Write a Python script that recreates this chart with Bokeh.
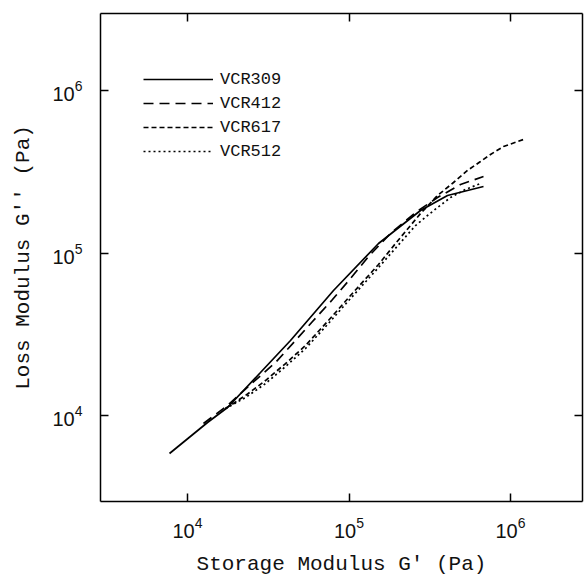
from bokeh.plotting import figure
from bokeh.models import LogAxis, FixedTicker, Legend, LegendItem, Range1d
from bokeh.embed import file_html
from bokeh.resources import INLINE

# ---- data ----
vcr309_x = [7740, 13300, 17690, 28310, 43430, 80170, 152300, 277200, 407300, 680500]
vcr309_y = [5840, 9056, 11200, 18390, 28940, 58780, 114400, 182600, 225800, 256600]

vcr412_x = [12560, 17690, 24550, 35070, 46640, 59430, 79040, 102200, 132000, 180700,
            258100, 353200, 490300, 680500]
vcr412_y = [8930, 11520, 15510, 21200, 28940, 37890, 51730, 69670, 95170, 131800,
            177500, 219500, 263900, 295700]

vcr617_x = [17190, 22870, 30410, 40450, 53790, 73590, 102200, 152300, 194100, 223800,
            277200, 353200, 443700, 541700, 652000, 751900, 905100, 1204000]
vcr617_y = [11040, 13280, 16420, 20890, 26970, 37890, 54770, 84980, 114400, 135600,
            175000, 225800, 271600, 322000, 365700, 403800, 452300, 499500]

vcr512_x = [17190, 22870, 30410, 40450, 53790, 73590, 102200, 152300, 208400, 258100,
            306300, 353200, 425100, 526500, 652000]
vcr512_y = [11040, 12900, 15730, 20020, 25840, 36310, 52480, 81440, 116000, 147600,
            170100, 190500, 219500, 246000, 267700]

series_names = ["VCR309", "VCR412", "VCR617", "VCR512"]
tick_values = [1e4, 1e5, 1e6]
tick_labels = ["10\u2074", "10\u2075", "10\u2076"]

x_title = "Storage Modulus G' (Pa)"
y_title = "Loss Modulus G'' (Pa)"

# ---- figure ----
p = figure(x_axis_type="log", y_axis_type="log",
           frame_width=482, frame_height=488,
           x_range=Range1d(2893, 2.791e6), y_range=Range1d(2958, 2.977e6),
           output_backend="svg", toolbar_location=None,
           min_border_left=100, min_border_right=2, min_border_top=13, min_border_bottom=74)
p.grid.visible = False
p.outline_line_color = None
p.background_fill_color = "white"
p.border_fill_color = "white"

labels = {str(int(v)): t for v, t in zip(tick_values, tick_labels)}


def style_axis(ax, show_labels):
    ax.ticker = FixedTicker(ticks=tick_values, minor_ticks=[])
    ax.major_tick_in = 8
    ax.major_tick_out = 0
    ax.minor_tick_in = 0
    ax.minor_tick_out = 0
    ax.axis_line_color = "black"
    ax.axis_line_width = 1.5
    ax.major_tick_line_color = "black"
    ax.major_tick_line_width = 1.5
    if show_labels:
        ax.major_label_overrides = labels
        ax.major_label_text_font = "Liberation Sans"
        ax.major_label_text_font_size = "20px"
        ax.major_label_text_color = "#111111"
    else:
        ax.major_label_text_font_size = "1px"
        ax.major_label_text_alpha = 0
        ax.major_label_standoff = 0


style_axis(p.xaxis[0], True)
style_axis(p.yaxis[0], True)
p.xaxis[0].major_label_standoff = 15
p.yaxis[0].major_label_standoff = 18

for ax, title in ((p.xaxis[0], x_title), (p.yaxis[0], y_title)):
    ax.axis_label = title
    ax.axis_label_text_font = "Liberation Mono"
    ax.axis_label_text_font_size = "21px"
    ax.axis_label_text_font_style = "normal"
    ax.axis_label_text_color = "#111111"
p.xaxis[0].axis_label_standoff = 12
p.yaxis[0].axis_label_standoff = 14

top_ax = LogAxis()
right_ax = LogAxis()
style_axis(top_ax, False)
style_axis(right_ax, False)
p.add_layout(top_ax, "above")
p.add_layout(right_ax, "right")

# ---- lines ----
r1 = p.line(vcr309_x, vcr309_y, line_color="black", line_width=1.7)
r2 = p.line(vcr412_x, vcr412_y, line_color="black", line_width=1.7, line_dash="10 6")
r3 = p.line(vcr617_x, vcr617_y, line_color="black", line_width=1.7, line_dash="5 3")
r4 = p.line(vcr512_x, vcr512_y, line_color="black", line_width=1.7, line_dash="2 3")

legend = Legend(items=[LegendItem(label=n, renderers=[r]) for n, r in
                       zip(series_names, [r1, r2, r3, r4])],
                location=(43, 338), glyph_width=70, glyph_height=24, label_height=24,
                spacing=0, padding=0, margin=0, label_standoff=7,
                border_line_color=None, background_fill_alpha=0,
                label_text_font="Liberation Mono", label_text_font_size="17px",
                label_text_color="#111111")
p.add_layout(legend)

open("out.html", "w").write(file_html(p, INLINE))
